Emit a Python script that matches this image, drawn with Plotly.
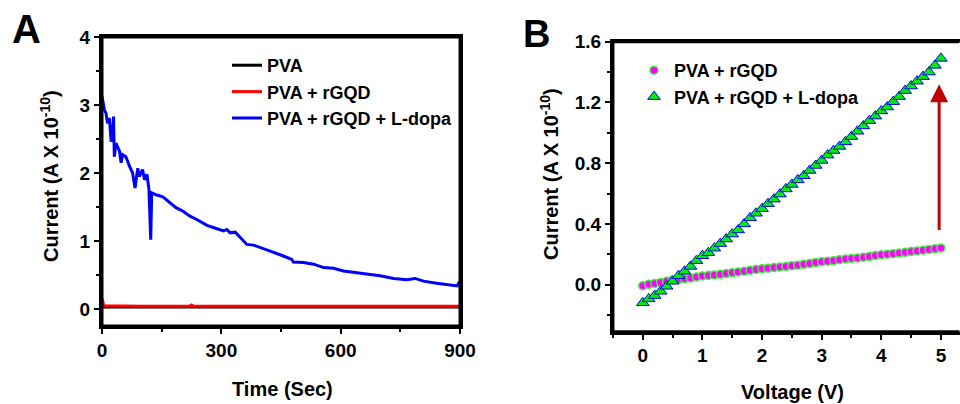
import plotly.graph_objects as go

# ---------------- Panel A data ----------------
time_blue = [0, 6, 10, 14, 18.5, 23, 27, 29, 31, 35, 44, 48, 52, 60, 69, 77, 83, 90, 94,
             102, 107, 113, 118, 122.5, 125, 136, 153, 170, 186, 203, 220, 237, 253, 264,
             289, 306, 314, 322, 335, 347, 364, 381, 406, 431, 456, 477, 481, 506, 532,
             557, 582, 607, 632, 666, 699, 733, 766, 787, 808, 841, 875, 893, 898, 900]
cur_blue = [3.13, 2.93, 2.88, 2.73, 2.81, 2.46, 2.64, 2.83, 2.24, 2.44, 2.32, 2.15, 2.27,
            2.24, 2.10, 2.00, 1.78, 2.07, 1.95, 2.05, 1.90, 1.98, 1.76, 1.02, 1.71, 1.68,
            1.65, 1.57, 1.49, 1.44, 1.37, 1.32, 1.26, 1.23, 1.18, 1.15, 1.17, 1.12, 1.13,
            1.05, 0.95, 0.94, 0.89, 0.84, 0.78, 0.73, 0.69, 0.685, 0.66, 0.61, 0.60, 0.56,
            0.54, 0.51, 0.49, 0.45, 0.43, 0.45, 0.41, 0.38, 0.36, 0.34, 0.40, 0.35]
time_red = [0, 2, 4, 50, 100, 220, 225, 230, 450, 600, 750, 900]
cur_red = [0.15, 0.12, 0.05, 0.045, 0.04, 0.04, 0.06, 0.04, 0.04, 0.04, 0.04, 0.04]
time_black = [0, 300, 600, 900]
cur_black = [0.03, 0.03, 0.03, 0.03]

# ---------------- Panel B data ----------------
voltage = [round(i * 0.1, 1) for i in range(51)]
cur_rgqd = [-0.007, 0.002, 0.008, 0.014, 0.022, 0.030, 0.034, 0.038, 0.043, 0.050,
            0.057, 0.060, 0.064, 0.068, 0.073, 0.078, 0.083, 0.088, 0.094, 0.100,
            0.105, 0.108, 0.112, 0.116, 0.120, 0.124, 0.128, 0.134, 0.139, 0.145,
            0.150, 0.154, 0.158, 0.164, 0.168, 0.172, 0.176, 0.181, 0.185, 0.191,
            0.196, 0.200, 0.204, 0.208, 0.213, 0.218, 0.222, 0.227, 0.232, 0.236, 0.241]
cur_ldopa = [-0.12, -0.094, -0.072, -0.044, -0.011, 0.022, 0.059, 0.088, 0.12, 0.158,
             0.19, 0.21, 0.24, 0.27, 0.30, 0.333, 0.36, 0.40, 0.44, 0.47,
             0.50, 0.533, 0.563, 0.596, 0.63, 0.66, 0.69, 0.717, 0.752, 0.785,
             0.818, 0.853, 0.883, 0.91, 0.94, 0.975, 1.01, 1.045, 1.08, 1.11,
             1.144, 1.17, 1.205, 1.238, 1.278, 1.308, 1.34, 1.37, 1.40, 1.444, 1.49]
arrow_x = 4.97
arrow_from = 0.35
arrow_to = 1.32

FONT = "Liberation Sans, Arial, sans-serif"

A_X = [0.10625, 0.4792]
A_Y = [0.193, 0.9084]
B_X = [0.6385, 1.0]
B_Y = [0.179, 0.8968]

fig = go.Figure()

fig.add_trace(go.Scatter(x=time_black, y=cur_black, mode="lines", name="PVA",
                         line=dict(color="#000000", width=3), xaxis="x", yaxis="y",
                         legend="legend"))
fig.add_trace(go.Scatter(x=time_red, y=cur_red, mode="lines", name="PVA + rGQD",
                         line=dict(color="#FF0000", width=3), xaxis="x", yaxis="y",
                         legend="legend"))
fig.add_trace(go.Scatter(x=time_blue, y=cur_blue, mode="lines", name="PVA + rGQD + L-dopa",
                         line=dict(color="#0000FF", width=3), xaxis="x", yaxis="y",
                         legend="legend"))

fig.add_trace(go.Scatter(x=voltage, y=cur_rgqd, mode="markers", name="PVA + rGQD",
                         marker=dict(symbol="circle", size=8, color="#FF00FF",
                                     line=dict(color="#44EE44", width=1.5)),
                         xaxis="x2", yaxis="y2", legend="legend2"))
fig.add_trace(go.Scatter(x=voltage, y=cur_ldopa, mode="markers", name="PVA + rGQD + L-dopa",
                         marker=dict(symbol="triangle-up", size=11, color="#00EE00",
                                     line=dict(color="#0000FF", width=1)),
                         xaxis="x2", yaxis="y2", legend="legend2"))


def axis(**kw):
    d = dict(showline=True, linecolor="black", linewidth=3, mirror=True,
             ticks="outside", ticklen=5, tickwidth=2, tickcolor="black",
             showgrid=False, zeroline=False, automargin=False,
             tickfont=dict(family=FONT, size=19, color="black", weight="bold"))
    d.update(kw)
    return d


def minor(dt):
    return dict(dtick=dt, tick0=0, ticks="outside", ticklen=3, tickwidth=2,
                tickcolor="black", showgrid=False)


fig.update_layout(
    template="none",
    width=960, height=404, autosize=False,
    margin=dict(l=0, r=0, t=0, b=0, pad=0),
    paper_bgcolor="white", plot_bgcolor="white",
    xaxis=axis(domain=A_X, range=[0, 900], tickvals=[0, 300, 600, 900],
               minor=minor(150), anchor="y"),
    yaxis=axis(domain=A_Y, range=[-0.25, 4], tickvals=[0, 1, 2, 3, 4],
               minor=minor(0.5), anchor="x"),
    xaxis2=axis(domain=B_X, range=[-0.5, 5.32], tickvals=[0, 1, 2, 3, 4, 5],
                minor=minor(0.5), anchor="y2"),
    yaxis2=axis(domain=B_Y, range=[-0.31, 1.6], mirror=False,
                tickvals=[0, 0.4, 0.8, 1.2, 1.6], tickformat=".1f",
                minor=minor(0.2), anchor="x2"),
    legend=dict(x=227 / 960, y=1 - 47 / 404, xanchor="left", yanchor="top",
                bgcolor="rgba(0,0,0,0)", borderwidth=0,
                font=dict(family=FONT, size=18, color="black", weight="bold")),
    legend2=dict(x=634 / 960, y=1 - 52 / 404, xanchor="left", yanchor="top",
                 bgcolor="rgba(0,0,0,0)", borderwidth=0,
                 font=dict(family=FONT, size=18, color="black", weight="bold")),
    showlegend=True,
)

# plot frames drawn explicitly, side by side
frame = dict(color="black", width=3)
sides = [
    (A_X[0], A_X[1], A_Y[1], A_Y[1]),  # A top
    (A_X[0], A_X[1], A_Y[0], A_Y[0]),  # A bottom
    (A_X[0], A_X[0], A_Y[0], A_Y[1]),  # A left
    (A_X[1], A_X[1], A_Y[0], A_Y[1]),  # A right
    (B_X[0], 0.9995, B_Y[1], B_Y[1]),  # B top
    (B_X[0], 0.9995, B_Y[0], B_Y[0]),  # B bottom
    (B_X[0], B_X[0], B_Y[0], B_Y[1]),  # B left
]
for x0, x1, y0, y1 in sides:
    fig.add_shape(type="line", xref="paper", yref="paper", x0=x0, x1=x1, y0=y0, y1=y1,
                  line=frame, layer="above")

title_font = dict(family=FONT, size=20, color="black", weight="bold")
annotations = [
    dict(text="A", x=26 / 960, y=1 - 29 / 404, xref="paper", yref="paper",
         showarrow=False, font=dict(family=FONT, size=40, color="black", weight="bold"),
         xanchor="center", yanchor="middle"),
    dict(text="B", x=536 / 960, y=1 - 34 / 404, xref="paper", yref="paper",
         showarrow=False, font=dict(family=FONT, size=38, color="black", weight="bold"),
         xanchor="center", yanchor="middle"),
    dict(text="Time (Sec)", x=282 / 960, y=1 - 389 / 404, xref="paper", yref="paper",
         showarrow=False, font=title_font, xanchor="center", yanchor="middle"),
    dict(text="Voltage (V)", x=792 / 960, y=1 - 392 / 404, xref="paper", yref="paper",
         showarrow=False, font=title_font, xanchor="center", yanchor="middle"),
    dict(text="Current (A X 10<sup>-10</sup>)", x=50 / 960, y=1 - 176 / 404,
         xref="paper", yref="paper", textangle=-90,
         showarrow=False, font=title_font, xanchor="center", yanchor="middle"),
    dict(text="Current (A X 10<sup>-10</sup>)", x=550 / 960, y=1 - 174 / 404,
         xref="paper", yref="paper", textangle=-90,
         showarrow=False, font=title_font, xanchor="center", yanchor="middle"),
    dict(x=arrow_x, y=arrow_to, ax=arrow_x, ay=arrow_from, xref="x2", yref="y2",
         axref="x2", ayref="y2", showarrow=True, arrowhead=2, arrowsize=1.2,
         arrowwidth=3, arrowcolor="#C00000", text=""),
]
fig.update_layout(annotations=annotations)

fig.write_html(
    "out.html",
    config={"displayModeBar": False, "responsive": False},
    post_script="document.body.style.margin='0';document.body.style.padding='0';"
                "document.documentElement.style.overflow='hidden';",
)
